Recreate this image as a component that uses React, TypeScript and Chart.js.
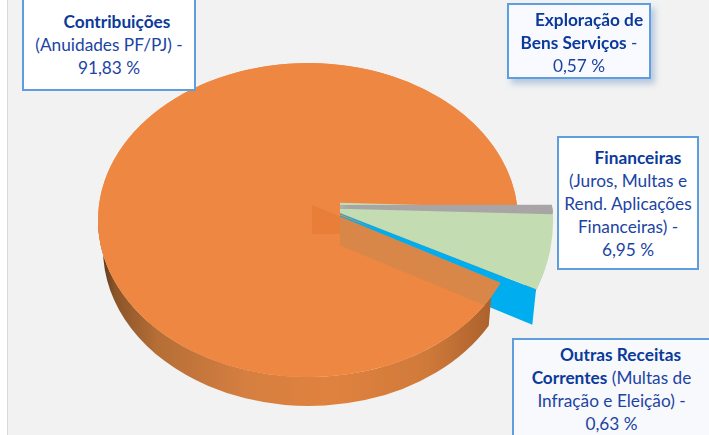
import React, { useEffect, useRef } from "react";
import { Chart, registerables } from "chart.js";

Chart.register(...registerables);

const categories = ["Exploração de Bens Serviços", "Financeiras", "Outras Receitas Correntes", "Contribuições"];
const shares = [0.57, 6.95, 0.63, 91.83];
const sliceColors = ["#a9a5a6", "#c3dcb2", "#00aeef", "#ee8741"];

const contribuicoesBold = ["Contribuições"];
const contribuicoesPlain = ["(Anuidades PF/PJ) -", "91,83 %"];
const exploracaoBold = ["Exploração de", "Bens Serviços"];
const exploracaoPlain = ["0,57 %"];
const financeirasBold = ["Financeiras"];
const financeirasPlain = ["(Juros, Multas e", "Rend. Aplicações", "Financeiras) -", "6,95 %"];
const outrasBold = ["Outras Receitas", "Correntes"];
const outrasPlain = ["(Multas de", "Infração e Eleição) -", "0,63 %"];

const MAIN = { cx: 308, cy: 220, rx: 210, ry: 157, shear: 0 };
const CUT = { cx: 312, cy: 205, rx: 240, ry: 186, shear: 0.12 };
const GREEN_CUT = { cx: 312, cy: 202, rx: 240, ry: 193, shear: 0.12 };
const GRAY_STEPS = [3, 2, 1, 0];
const DEPTH = 29;
const CLIP_X = 340;

const on = (g: any, a: number, dy = 0): [number, number] => {
  const yy = g.ry * Math.sin(a);
  return [g.cx + g.rx * Math.cos(a) + g.shear * yy, g.cy + yy + dy];
};

const poly = (ctx: any, pts: [number, number][]) => {
  ctx.beginPath();
  pts.forEach((p, i) => (i ? ctx.lineTo(p[0], p[1]) : ctx.moveTo(p[0], p[1])));
  ctx.closePath();
};

const drawArc = (ctx: any, arc: any, g: any) => {
  ctx.save();
  ctx.translate(g.cx, g.cy);
  ctx.transform(1, 0, g.shear, 1, 0, 0);
  ctx.scale(g.rx / arc.outerRadius, g.ry / arc.outerRadius);
  ctx.translate(-arc.x, -arc.y);
  arc.draw(ctx);
  ctx.restore();
};

const pie3d = {
  id: "pie3d",
  beforeDatasetsDraw(chart: any) {
    const ctx = chart.ctx;
    const arcs = chart.getDatasetMeta(0).data;
    const [gray, green, blue, main] = arcs;
    const C: [number, number] = [CUT.cx, CUT.cy];
    const R = on(CUT, blue.endAngle);
    const Rup = on(CUT, blue.startAngle);
    const wallPts: [number, number][] = [C, R, [R[0], R[1] + DEPTH], [C[0], C[1] + DEPTH]];
    const t = (CLIP_X - C[0]) / (R[0] - C[0]);
    const Lclip: [number, number] = [CLIP_X, C[1] + t * (R[1] - C[1])];

    const clipFrom = (x: number) => {
      ctx.beginPath();
      ctx.rect(x, 0, chart.width, chart.height);
      ctx.clip();
    };

    // blue outer wall of the cut-out group
    ctx.save();
    clipFrom(CLIP_X);
    poly(ctx, [C, Rup, [R[0], R[1] + DEPTH], [C[0], C[1] + DEPTH]]);
    ctx.fillStyle = blue.options.backgroundColor;
    ctx.fill();
    ctx.restore();

    // rim of the main slice
    const grad = ctx.createLinearGradient(MAIN.cx - MAIN.rx, 0, MAIN.cx + MAIN.rx, 0);
    grad.addColorStop(0, "#4f3018");
    grad.addColorStop(0.04, "#8a5428");
    grad.addColorStop(0.14, "#b56e36");
    grad.addColorStop(0.35, "#d57f40");
    grad.addColorStop(0.55, "#e0823f");
    grad.addColorStop(0.78, "#d07a3a");
    grad.addColorStop(0.92, "#b0642e");
    grad.addColorStop(1, "#9a5726");
    ctx.beginPath();
    ctx.ellipse(MAIN.cx + 1, MAIN.cy + DEPTH, MAIN.rx - 4, MAIN.ry, 0, main.startAngle, Math.PI);
    ctx.ellipse(MAIN.cx, MAIN.cy, MAIN.rx, MAIN.ry, 0, Math.PI, main.startAngle, true);
    ctx.closePath();
    ctx.fillStyle = grad;
    ctx.fill();

    // top face of the main slice, with the plate under its opening
    ctx.beginPath();
    ctx.ellipse(MAIN.cx, MAIN.cy, MAIN.rx, MAIN.ry, 0, 0, Math.PI * 2);
    ctx.fillStyle = main.options.backgroundColor;
    ctx.fill();
    drawArc(ctx, main, MAIN);

    // wall seen through the top face
    ctx.save();
    ctx.beginPath();
    ctx.ellipse(MAIN.cx, MAIN.cy, MAIN.rx, MAIN.ry, 0, 0, Math.PI * 2);
    ctx.clip();
    ctx.save();
    clipFrom(CLIP_X);
    poly(ctx, wallPts);
    ctx.fillStyle = "#d98748";
    ctx.fill();
    ctx.restore();
    poly(ctx, [C, Lclip, [CLIP_X, C[1] + DEPTH], [C[0], C[1] + DEPTH]]);
    ctx.fillStyle = "#e87e38";
    ctx.fill();
    ctx.restore();

    // thin dark rim under the green slice
    ctx.save();
    clipFrom(525);
    ctx.translate(CUT.cx - 2, CUT.cy + 4);
    ctx.transform(1, 0, CUT.shear, 1, 0, 0);
    ctx.beginPath();
    ctx.moveTo(0, 0);
    ctx.ellipse(0, 0, CUT.rx, CUT.ry, 0, green.startAngle, green.endAngle);
    ctx.closePath();
    ctx.fillStyle = "#2f3a2c";
    ctx.fill();
    ctx.restore();

    // cut-out group
    ctx.save();
    clipFrom(CLIP_X);
    drawArc(ctx, blue, GREEN_CUT);
    drawArc(ctx, blue, CUT);
    drawArc(ctx, green, GREEN_CUT);
    GRAY_STEPS.forEach((dy) => drawArc(ctx, gray, { ...CUT, cy: CUT.cy + dy }));
    ctx.restore();
    return false;
  },
};

const boxBase: React.CSSProperties = {
  position: "absolute",
  boxSizing: "border-box",
  border: "2px solid #5f9ede",
  background: "#ffffff",
  color: "#1c44a3",
  fontFamily: "Lato, 'Open Sans', sans-serif",
  fontSize: 17.25,
  lineHeight: "23px",
  textAlign: "center",
  whiteSpace: "nowrap",
};
const strong: React.CSSProperties = { fontWeight: 700, color: "#0b3a9b" };

function App() {
  const ref = useRef<HTMLCanvasElement>(null);
  useEffect(() => {
    const chart = new Chart(ref.current as HTMLCanvasElement, {
      type: "pie",
      data: {
        labels: categories,
        datasets: [{ data: shares, backgroundColor: sliceColors, borderWidth: 0 }],
      },
      options: {
        responsive: false,
        animation: false,
        rotation: 89.9,
        plugins: { legend: { display: false }, tooltip: { enabled: false } },
      },
      plugins: [pie3d],
    } as any);
    return () => chart.destroy();
  }, []);

  return (
    <div style={{ position: "fixed", left: 0, top: 0, width: 709, height: 435, overflow: "hidden", background: "#ffffff" }}>
      <div style={{ position: "absolute", left: 7, top: 0, width: 702, height: 435, background: "#f2f2f2", borderLeft: "1px solid #d9d9d9", boxSizing: "border-box" }} />
      <canvas ref={ref} width={709} height={435} style={{ position: "absolute", left: 0, top: 0 }} />

      <div style={{ ...boxBase, left: 22, top: -20, width: 174, height: 111, paddingTop: 28 }}>
        <div style={{ ...strong, paddingLeft: 16 }}>{contribuicoesBold[0]}</div>
        <div>{contribuicoesPlain[0]}</div>
        <div>{contribuicoesPlain[1]}</div>
      </div>

      <div style={{ ...boxBase, left: 507, top: 3, width: 144, height: 76, paddingTop: 3, background: "#f9faff", boxShadow: "4px 5px 6px rgba(110,150,200,0.45)" }}>
        <div style={{ ...strong, paddingLeft: 20 }}>{exploracaoBold[0]}</div>
        <div><span style={strong}>{exploracaoBold[1]}</span> -</div>
        <div>{exploracaoPlain[0]}</div>
      </div>

      <div style={{ ...boxBase, left: 557, top: 136, width: 142, height: 134, paddingTop: 8 }}>
        <div style={{ ...strong, paddingLeft: 20 }}>{financeirasBold[0]}</div>
        {financeirasPlain.map((l) => <div key={l}>{l}</div>)}
      </div>

      <div style={{ ...boxBase, left: 512, top: 338, width: 199, height: 110, paddingTop: 3, background: "#f8f9fd" }}>
        <div style={{ ...strong, paddingLeft: 18 }}>{outrasBold[0]}</div>
        <div><span style={strong}>{outrasBold[1]}</span> {outrasPlain[0]}</div>
        <div>{outrasPlain[1]}</div>
        <div>{outrasPlain[2]}</div>
      </div>
    </div>
  );
}

export default App;
